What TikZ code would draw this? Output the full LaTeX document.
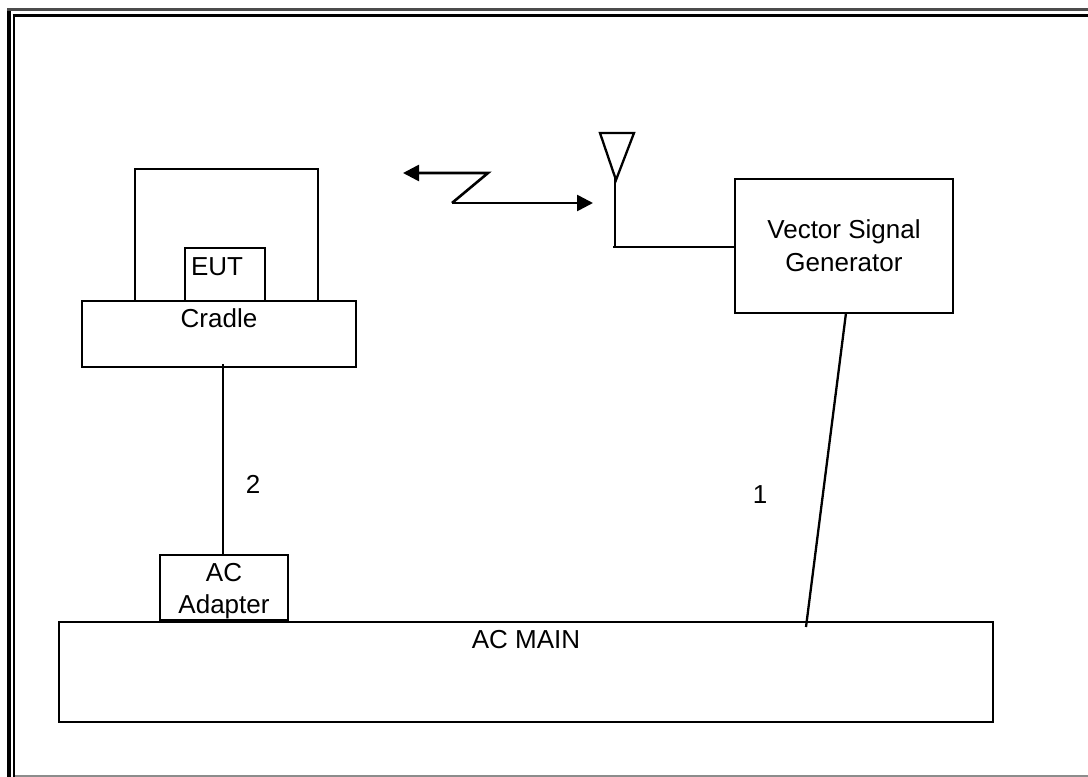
\documentclass[tikz,border=0pt]{standalone}
\usepackage{fontspec}
\setmainfont{Liberation Sans}
\usetikzlibrary{arrows.meta,positioning}

\begin{document}
\begin{tikzpicture}[
  x=1pt, y=-1pt,
  box/.style={rectangle, draw=black, line width=2.3pt, inner sep=0pt, outer sep=0pt, fill=white},
  tag/.style={inner sep=0pt, outer sep=0pt, anchor=base, align=center,
    font=\fontsize{26}{33}\selectfont},
  wire/.style={black, line width=2.3pt},
  arr/.style={-{Triangle[length=16pt, width=16pt]}, black, line width=2.6pt}]

\useasboundingbox (0,0) rectangle (1088,777);

% double border, runs off the page on the right
\draw[black, line width=3.6pt] (9,777) -- (9,8);
\draw[black!70, line width=2.8pt] (7,9.6) -- (1090,9.6);
\draw[black, line width=2.6pt] (13.8,777) -- (13.8,14);
\draw[black, line width=2.6pt] (12.5,15.3) -- (1090,15.3);
\draw[black!45, line width=1.4pt] (15,776) -- (1090,776);

\node[box, minimum width=183pt, minimum height=132pt] (shield) at (226.5,235) {};
\node[box, minimum width=80pt, minimum height=53pt] (eut) at (225,274.5) {};
\node[box, minimum width=274pt, minimum height=66pt] (cradle) at (219,334) {};
\node[box, minimum width=218pt, minimum height=134pt] (vsg) at (844,246) {};
\node[box, minimum width=934pt, minimum height=100pt] (acmain) at (526,672) {};
\node[box, minimum width=128pt, minimum height=65pt] (adapter) at (224,587.5) {};

\node[tag] (euttext) at (217,275) {EUT};
\node[tag] (cradletext) at (219,327) {Cradle};
\node[tag] (vsgtext1) at (844,238) {Vector Signal};
\node[tag] (vsgtext2) at (844,271) {Generator};
\node[tag] (adaptertext1) at (224,581) {AC};
\node[tag] (adaptertext2) at (224,613.5) {Adapter};
\node[tag] (acmaintext) at (526,648) {AC MAIN};
\node[tag] (cable2) at (253,493) {2};
\node[tag] (cable1) at (760,503) {1};

\coordinate (anttip) at (616,180);
\coordinate (mastTop) at (615,178);
\coordinate (mastEnd) at (615,248);
\coordinate (antfoot) at (613,247);
\coordinate (cradletap) at (223,364);
\coordinate (vsgtap) at (846,313);
\coordinate (maintap) at (806,627);
\coordinate (zigleft) at (403,173);
\coordinate (zigtop) at (488,173);
\coordinate (zigbottom) at (452,203);
\coordinate (zigright) at (593,203);

\draw[wire] (600,133) -- (634,133) -- (anttip) -- cycle;
\draw[wire] (mastTop) -- (mastEnd);
\draw[wire] (antfoot) -- (antfoot -| vsg.west);
\draw[wire] (cradletap) -- (cradletap |- adapter.north);
\draw[wire] (vsgtap) -- (maintap);
\draw[arr] (zigbottom) -- (zigright);
\draw[arr] (zigbottom) -- (zigtop) -- (zigleft);
\end{tikzpicture}
\end{document}
